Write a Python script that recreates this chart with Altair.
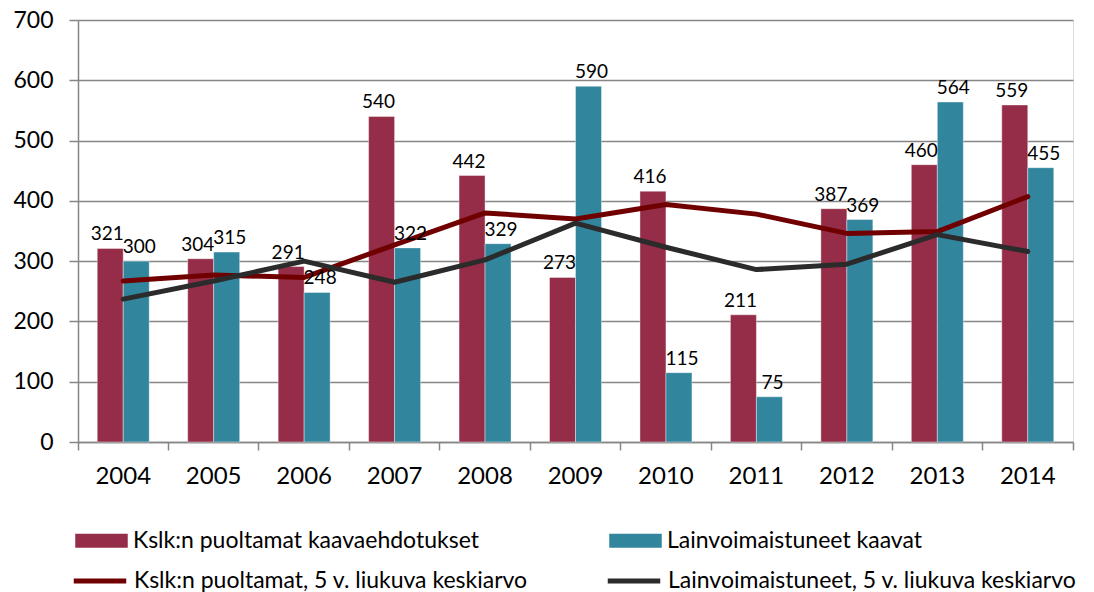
import altair as alt
import pandas as pd

years = [str(y) for y in range(2004, 2015)]
kslk = [321, 304, 291, 540, 442, 273, 416, 211, 387, 460, 559]
lainv = [300, 315, 248, 322, 329, 590, 115, 75, 369, 564, 455]
kslk_ma = [267, 277, 273, 327, 380, 370, 394, 378, 346, 349, 407]
lainv_ma = [237, 267, 300, 265, 302, 363, 323, 286, 295, 344, 316]
y_ticks = [0, 100, 200, 300, 400, 500, 600, 700]

S1 = "Kslk:n puoltamat kaavaehdotukset"
S2 = "Lainvoimaistuneet kaavat"
L1 = "Kslk:n puoltamat, 5 v. liukuva keskiarvo"
L2 = "Lainvoimaistuneet, 5 v. liukuva keskiarvo"

bars_df = pd.DataFrame({"year": years * 2, "value": kslk + lainv,
                        "series": [S1] * len(years) + [S2] * len(years)})
lines_df = pd.DataFrame({"year": years * 2, "value": kslk_ma + lainv_ma,
                         "series": [L1] * len(years) + [L2] * len(years)})

FONT = "Lato"
GRAY = "#868686"

x = alt.X("year:N", sort=years,
          scale=alt.Scale(paddingInner=0, paddingOuter=0),
          axis=alt.Axis(title=None, labelAngle=0, bandPosition=1, tickExtra=True,
                        tickSize=8, tickColor=GRAY, tickWidth=1.5,
                        domainColor=GRAY, domainWidth=1.5,
                        labelFont=FONT, labelFontSize=24, labelColor="black",
                        labelPadding=14, grid=False))
y = alt.Y("value:Q", scale=alt.Scale(domain=[0, 700], nice=False),
          axis=alt.Axis(title=None, values=y_ticks, tickSize=9, tickColor=GRAY,
                        tickWidth=1.5, domainColor=GRAY, domainWidth=1.5,
                        gridColor=GRAY, gridWidth=1.5,
                        labelFont=FONT, labelFontSize=23, labelColor="black",
                        labelPadding=16))
xoff = alt.XOffset("series:N", sort=[S1, S2],
                   scale=alt.Scale(paddingInner=0, paddingOuter=0.74))

bar_legend = alt.Legend(title=None, orient="none", legendX=-3, legendY=494,
                        direction="horizontal", columns=2, columnPadding=130,
                        symbolType="M-1,-0.27L1,-0.27L1,0.27L-1,0.27Z",
                        symbolSize=2756, symbolStrokeWidth=0, symbolOpacity=1,
                        labelFont=FONT, labelFontSize=23, labelColor="black",
                        labelOffset=5, labelLimit=0, padding=0)
line_legend = alt.Legend(title=None, orient="none", legendX=-7, legendY=532,
                         direction="horizontal", columns=2, columnPadding=69,
                         symbolType="stroke", symbolSize=2756, symbolStrokeWidth=5,
                         labelFont=FONT, labelFontSize=23, labelColor="black",
                         labelOffset=5, labelLimit=0, padding=0)

bars = alt.Chart(bars_df).mark_bar(stroke="white", strokeWidth=0.4).encode(
    x=x, y=y, xOffset=xoff,
    fill=alt.Fill("series:N", sort=[S1, S2],
                  scale=alt.Scale(domain=[S1, S2], range=["#952D48", "#31859C"]),
                  legend=bar_legend),
)

lines = alt.Chart(lines_df).mark_line(strokeWidth=5, strokeCap="round",
                                      strokeJoin="round").encode(
    x=x, y=y,
    stroke=alt.Stroke("series:N", sort=[L1, L2],
                      scale=alt.Scale(domain=[L1, L2], range=["#700000", "#2B2B2B"]),
                      legend=line_legend),
)

labels_red = alt.Chart(bars_df).transform_filter(
    alt.datum.series == S1
).mark_text(baseline="bottom", dy=-4, dx=-3, font=FONT,
            fontSize=19, color="black").encode(
    x=x, y=y, xOffset=xoff, text=alt.Text("value:Q"),
)
labels_blue = alt.Chart(bars_df).transform_filter(
    alt.datum.series == S2
).mark_text(baseline="bottom", dy=-4, dx=3, font=FONT,
            fontSize=19, color="black").encode(
    x=x, y=y, xOffset=xoff, text=alt.Text("value:Q"),
)

chart = alt.layer(bars, lines, labels_red, labels_blue).properties(
    width=995, height=422,
    autosize=alt.AutoSizeParams(type="none"),
    padding={"left": 70, "top": 12, "right": 13, "bottom": 150},
).configure_view(stroke=GRAY, strokeWidth=1.5).configure(background="white")

chart.save("out.html", embed_options={"renderer": "svg", "actions": False})
